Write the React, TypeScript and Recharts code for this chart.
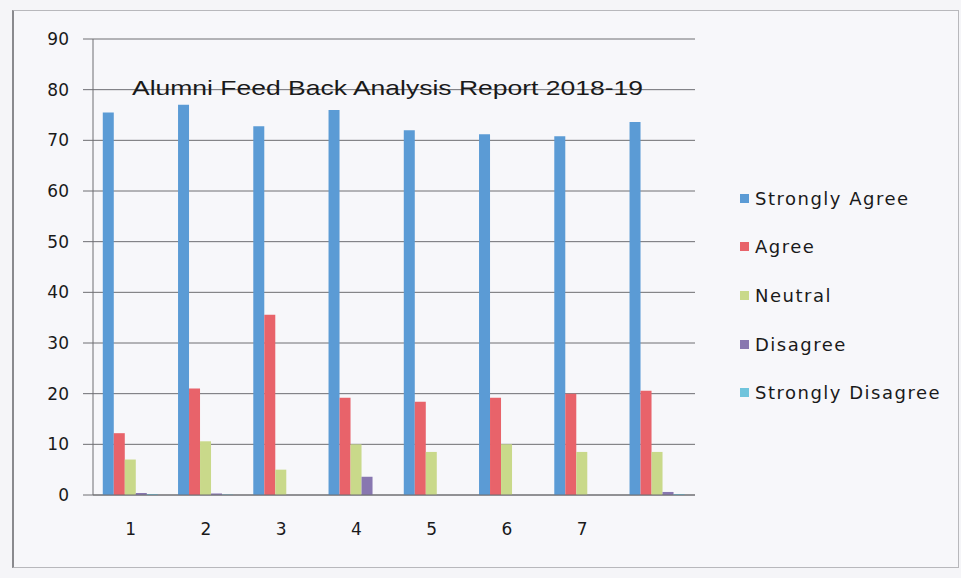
import React from 'react';
import { BarChart, Bar, XAxis, YAxis, CartesianGrid } from 'recharts';

const categories = ['1', '2', '3', '4', '5', '6', '7', ''];
const stronglyAgree = [75.5, 77, 72.8, 76, 72, 71.2, 70.8, 73.6];
const agree = [12.2, 21, 35.6, 19.2, 18.4, 19.2, 20, 20.6];
const neutral = [7, 10.6, 5, 10, 8.5, 10, 8.5, 8.5];
const disagree = [0.4, 0.3, 0, 3.6, 0, 0, 0, 0.6];
const stronglyDisagree = [0.2, 0.1, 0, 0, 0, 0, 0, 0.2];
const yTicks = [0, 10, 20, 30, 40, 50, 60, 70, 80, 90];

const seriesNames = ['Strongly Agree', 'Agree', 'Neutral', 'Disagree', 'Strongly Disagree'];
const seriesKeys = ['sa', 'a', 'n', 'd', 'sd'];
const seriesColors = ['#5b9bd5', '#e8636a', '#c9d98a', '#8877b0', '#70c4dc'];

const data = categories.map((c, i) => ({
  name: c,
  sa: stronglyAgree[i],
  a: agree[i],
  n: neutral[i],
  d: disagree[i],
  sd: stronglyDisagree[i],
}));

const FONT = '"DejaVu Sans", "Liberation Sans", Arial, sans-serif';
const TITLE_FONT = '"Liberation Sans", Arial, sans-serif';
const legendY = [198, 246, 295, 344, 392];

export default function App() {
  return (
    <div style={{ position: 'absolute', left: 0, top: 0, width: 961, height: 578, background: '#f5f5f8', overflow: 'hidden', fontFamily: FONT }}>
      <div style={{ position: 'absolute', left: 12, top: 10, width: 944, height: 556, border: '1px solid #b8b8bc', borderLeft: '2px solid #8a8a8e', background: '#f7f7fa' }} />
      <div style={{ position: 'absolute', left: 0, top: 0 }}>
        <BarChart
          width={961}
          height={578}
          data={data}
          margin={{ top: 39, right: 266, bottom: 53, left: 33 }}
          barCategoryGap="13%"
          barGap={0}
        >
          <CartesianGrid vertical={false} stroke="#6e6e72" strokeWidth={1} />
          <XAxis
            dataKey="name"
            tickLine={false}
            axisLine={{ stroke: '#6e6e72' }}
            tickMargin={22}
            height={30}
            tick={{ fill: '#1a1a1a', fontSize: 17, fontFamily: FONT }}
          />
          <YAxis
            domain={[0, 90]}
            ticks={yTicks}
            width={60}
            tickSize={10}
            tickMargin={14}
            axisLine={{ stroke: '#6e6e72' }}
            tickLine={{ stroke: '#6e6e72' }}
            tick={{ fill: '#1a1a1a', fontSize: 17, fontFamily: FONT }}
            interval={0}
          />
          {seriesKeys.map((k, i) => (
            <Bar key={k} dataKey={k} name={seriesNames[i]} fill={seriesColors[i]} isAnimationActive={false} />
          ))}
        </BarChart>
      </div>
      <svg style={{ position: 'absolute', left: 0, top: 0 }} width={961} height={578}>
        <text x={132} y={95} fontSize={21} fill="#1a1a1a" fontFamily={TITLE_FONT} textLength={511} lengthAdjust="spacingAndGlyphs">
          Alumni  Feed Back Analysis Report 2018-19
        </text>
      </svg>
      {seriesNames.map((n, i) => (
        <div key={n} style={{ position: 'absolute', left: 740, top: legendY[i] - 11, height: 22, display: 'flex', alignItems: 'center' }}>
          <div style={{ width: 9, height: 9, background: seriesColors[i], marginRight: 6 }} />
          <span style={{ fontSize: 18, letterSpacing: 1.5, color: '#1a1a1a', fontFamily: FONT, whiteSpace: 'nowrap' }}>{n}</span>
        </div>
      ))}
    </div>
  );
}
